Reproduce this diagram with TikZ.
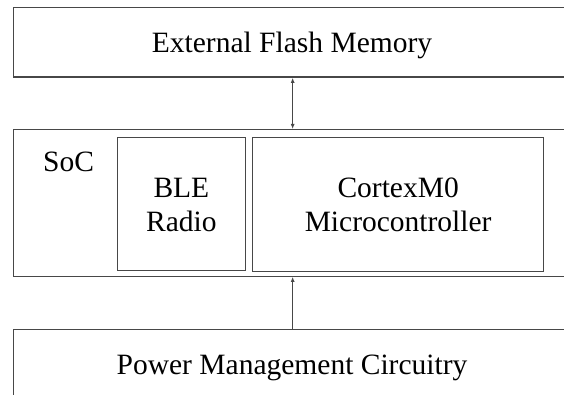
\documentclass[tikz,border=0pt]{standalone}
\usepackage{fontspec}
\setmainfont{Liberation Serif}
\usetikzlibrary{arrows.meta}
\begin{document}
\begin{tikzpicture}[x=1pt, y=-1pt,
    box/.style={draw=black!72, line width=1.3pt, inner sep=0pt, anchor=north west},
    lbl/.style={font=\fontsize{29.5}{34}\selectfont, inner sep=0pt, align=center},
    link/.style={draw=black!72, line width=1.1pt},
    tipboth/.style={link, {Latex[length=5pt,width=4pt]}-{Latex[length=5pt,width=4pt]}},
    tipup/.style={link, -{Latex[length=5pt,width=4pt]}}]
  \useasboundingbox (0,0) rectangle (564,395);
  \clip (0,0) rectangle (564,395);

  % outer blocks (they run past the right edge)
  \node[box, minimum width=559pt, minimum height=69.5pt] (flash) at (12.5,7) {};
  \node[box, minimum width=559pt, minimum height=146.5pt] (soc) at (12.5,129) {};
  \node[box, minimum width=559pt, minimum height=90pt] (power) at (12.5,329) {};

  % blocks inside the SoC
  \node[box, minimum width=128.5pt, minimum height=133pt] (ble) at (116.5,137) {};
  \node[box, minimum width=291pt, minimum height=134pt] (mcu) at (252,137) {};

  % labels (base anchor of a two-line label sits on its last line)
  \node[lbl, anchor=base] (flashtxt) at (292,53) {External Flash Memory};
  \node[lbl, anchor=base west] (soctxt) at (43,172) {SoC};
  \node[lbl, anchor=base] (bletxt) at (ble.center |- 0,232) {BLE\\[0pt]Radio};
  \node[lbl, anchor=base] (mcutxt) at (mcu.center |- 0,232) {CortexM0\\[0pt]Microcontroller};
  \node[lbl, anchor=base] (powertxt) at (292,374) {Power Management Circuitry};

  % connections
  \draw[tipboth] (flash.south) -- (soc.north);
  \draw[tipup] (power.north) -- (soc.south);
\end{tikzpicture}
\end{document}
